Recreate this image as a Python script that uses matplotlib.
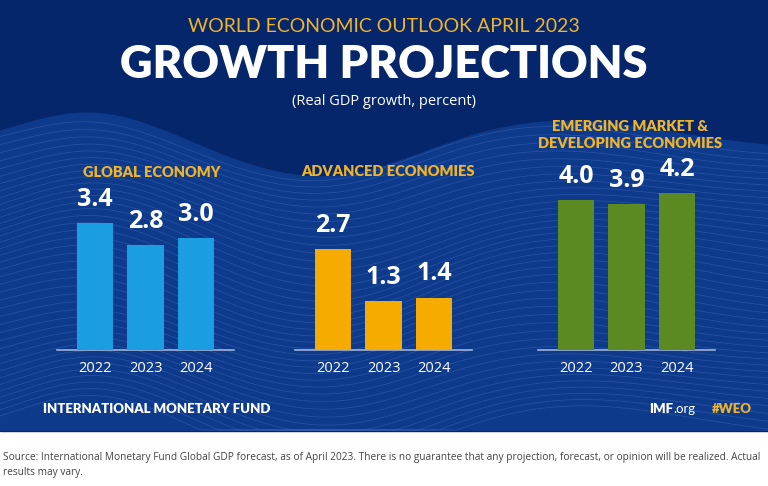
import matplotlib.pyplot as plt
import numpy as np
from matplotlib.patches import Rectangle

# data
years = ["2022", "2023", "2024"]
global_growth = [3.4, 2.8, 3.0]
advanced_growth = [2.7, 1.3, 1.4]
emerging_growth = [4.0, 3.9, 4.2]
panel_titles = ["GLOBAL ECONOMY", "ADVANCED ECONOMIES", "EMERGING MARKET &\nDEVELOPING ECONOMIES"]

W, H = 768, 486
NAVY = "#06266b"
WAVE = "#0e3a8c"
GOLD = "#f0b429"

fig = plt.figure(figsize=(W / 100, H / 100), dpi=100)
fig.patch.set_facecolor("white")

# background canvas in pixel coordinates
bg = fig.add_axes([0, 0, 1, 1])
bg.set_xlim(0, W)
bg.set_ylim(H, 0)
bg.axis("off")
bg.add_patch(Rectangle((0, 0), W, 431, color=NAVY, zorder=0))

# lighter wave band (decoration only)
xs = np.linspace(0, W, 400)
top = 150 - 38 * np.exp(-((xs - 90) / 110) ** 2) + 30 * np.exp(-((xs - 330) / 120) ** 2) \
      - 30 * np.exp(-((xs - 560) / 160) ** 2)
bg.fill_between(xs, top, 431, color=WAVE, zorder=1, lw=0)
for k in range(40):
    y0 = top + 6 + k * 7.2
    wob = 4 * np.sin(xs / 90 + k * 0.25)
    yy = np.minimum(y0 + wob, 430)
    bg.plot(xs, yy, color="#4a70c0", lw=0.6, alpha=0.4, zorder=2)

# header
bg.text(384, 27, "WORLD ECONOMIC OUTLOOK APRIL 2023", color=GOLD, fontsize=14,
        family="Lato", ha="center", va="center", zorder=5)
bg.text(384, 64, "GROWTH PROJECTIONS", color="white", fontsize=32.5, family="Lato",
        fontweight="heavy", ha="center", va="center", zorder=5)
bg.text(384, 101, "(Real GDP growth, percent)", color="white", fontsize=10.5,
        family="Open Sans", ha="center", va="center", zorder=5)

# footer
bg.text(43, 409, "INTERNATIONAL MONETARY FUND", color="white", fontsize=9.5, family="Lato",
        fontweight="heavy", ha="left", va="center", zorder=5)
bg.text(673, 409, "IMF", color="white", fontsize=9.5, family="Lato", fontweight="heavy",
        ha="right", va="center", zorder=5)
bg.text(673, 409, ".org", color="white", fontsize=9.5, family="Lato",
        ha="left", va="center", zorder=5)
bg.text(752, 409, "#WEO", color=GOLD, fontsize=9.5, family="Lato", fontweight="heavy",
        ha="right", va="center", zorder=5)
bg.text(3, 465, "Source: International Monetary Fund Global GDP forecast, as of April 2023. There is no "
        "guarantee that any projection, forecast, or opinion will be realized. Actual\nresults may vary.",
        color="#444444", fontsize=7.3, family="Open Sans", ha="left", va="center",
        linespacing=1.5)

# bar panels
px_per_unit = 37.4
spacing = 50.5
baseline = 350
ymax = 5.2
panels = [
    (95, global_growth, "#1b9de2", 152, 172),
    (333, advanced_growth, "#f5ab00", 388, 171),
    (576, emerging_growth, "#5c8a22", 630, 135),
]
for (x0, vals, col, tx, ty), title in zip(panels, panel_titles):
    left = x0 - 0.75 * spacing
    width = 3.5 * spacing
    height = ymax * px_per_unit
    ax = fig.add_axes([left / W, (H - baseline) / H, width / W, height / H])
    ax.patch.set_alpha(0)
    ax.bar(range(3), vals, width=0.72, color=col, zorder=3)
    ax.set_xlim(-0.75, 2.75)
    ax.set_ylim(0, ymax)
    for s in ["top", "right", "left"]:
        ax.spines[s].set_visible(False)
    ax.spines["bottom"].set_color("#9fb3d9")
    ax.spines["bottom"].set_linewidth(1.2)
    ax.set_yticks([])
    ax.set_xticks(range(3))
    ax.set_xticklabels(years, color="white", fontsize=10.5, family="Open Sans")
    ax.tick_params(axis="x", length=0, pad=8)
    for i, v in enumerate(vals):
        ax.text(i, v + 0.3, f"{v:.1f}", color="white", fontsize=18, family="Open Sans",
                fontweight="bold", ha="center", va="bottom")
    bg.text(tx, ty, title, color=GOLD, fontsize=10.5, family="Lato",
            fontweight="heavy", ha="center", va="center", linespacing=1.3, zorder=5)

fig.savefig("out.png", dpi=100, facecolor=fig.get_facecolor())
